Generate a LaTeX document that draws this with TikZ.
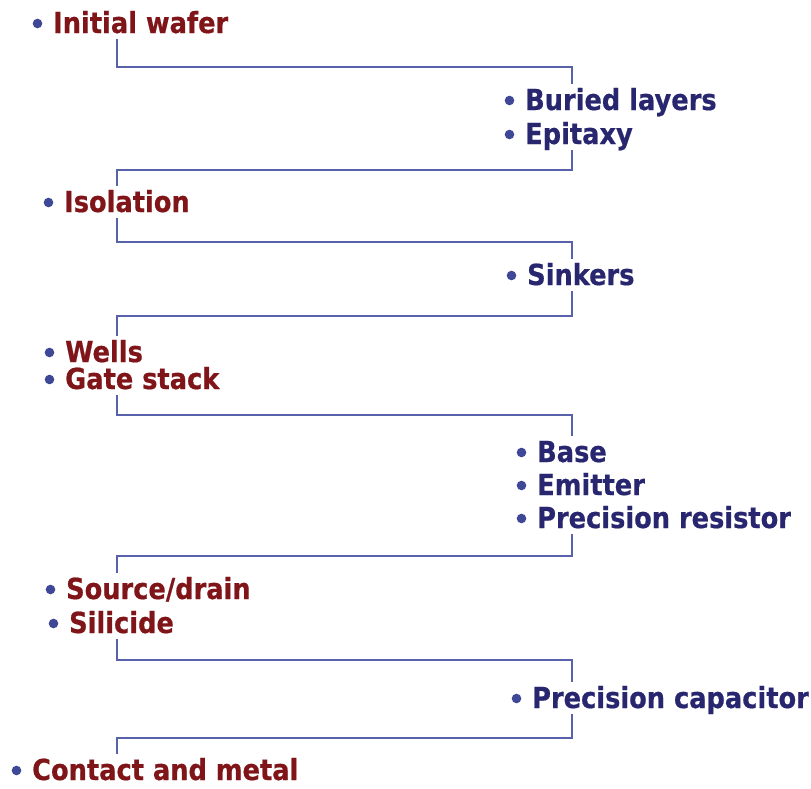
\documentclass[tikz,border=0pt]{standalone}
\usepackage{fontspec}
\setmainfont{DejaVu Sans}[FakeStretch=0.885,BoldFeatures={FakeBold=0.6}]
\definecolor{redtxt}{HTML}{7F1519}
\definecolor{bluetxt}{HTML}{28266E}
\definecolor{bul}{HTML}{3E4896}
\definecolor{conncol}{HTML}{5862AA}
\tikzset{
  item/.style={anchor=base west, inner sep=0pt, text height=26pt, text depth=6pt,
    font=\fontsize{29}{34}\selectfont\bfseries},
  lt/.style={item, text=redtxt},
  rt/.style={item, text=bluetxt},
  conn/.style={draw=conncol, line width=2pt},
}
\newcommand{\bulletat}[1]{\fill[bul] (#1.base west) ++(-15.5pt,9.5pt) circle (4.8pt);}
\begin{document}
\begin{tikzpicture}[x=1pt,y=-1pt]
\useasboundingbox (0,0) rectangle (811,788);
\coordinate (xl) at (117,0);
\coordinate (xr) at (572,0);
% items
\node[lt] (iw) at (53,33) {Initial wafer};
\node[rt] (bl) at (525,110) {Buried layers};
\node[rt] (ep) at (525,144) {Epitaxy};
\node[lt] (iso) at (64,212) {Isolation};
\node[rt] (sk) at (527,285) {Sinkers};
\node[lt] (we) at (65,362) {Wells};
\node[lt] (gs) at (65,389) {Gate stack};
\node[rt] (ba) at (537,462) {Base};
\node[rt] (em) at (537,495) {Emitter};
\node[rt] (pr) at (537,528) {Precision resistor};
\node[lt] (sd) at (66,599) {Source/drain};
\node[lt] (si) at (69,633) {Silicide};
\node[rt] (pc) at (532,708) {Precision capacitor};
\node[lt, text depth=4pt] (cm) at (32,780) {Contact and metal};
\foreach \n in {iw,bl,ep,iso,sk,we,gs,ba,em,pr,sd,si,pc,cm}{\bulletat{\n}}
% horizontal levels
\coordinate (h1) at (572,67);
\coordinate (h2) at (117,170);
\coordinate (h3) at (572,242);
\coordinate (h4) at (117,316);
\coordinate (h5) at (572,415);
\coordinate (h6) at (117,556);
\coordinate (h7) at (572,660);
\coordinate (h8) at (117,738);
% connectors
\draw[conn] (iw.south -| xl) |- (h1) -- (bl.north -| xr);
\draw[conn] (ep.south -| xr) |- (h2) -- (iso.north -| xl);
\draw[conn] (iso.south -| xl) |- (h3) -- (sk.north -| xr);
\draw[conn] (sk.south -| xr) |- (h4) -- (we.north -| xl);
\draw[conn] (gs.south -| xl) |- (h5) -- (ba.north -| xr);
\draw[conn] (pr.south -| xr) |- (h6) -- (sd.north -| xl);
\draw[conn] (si.south -| xl) |- (h7) -- (pc.north -| xr);
\draw[conn] (pc.south -| xr) |- (h8) -- (cm.north -| xl);
\end{tikzpicture}
\end{document}
